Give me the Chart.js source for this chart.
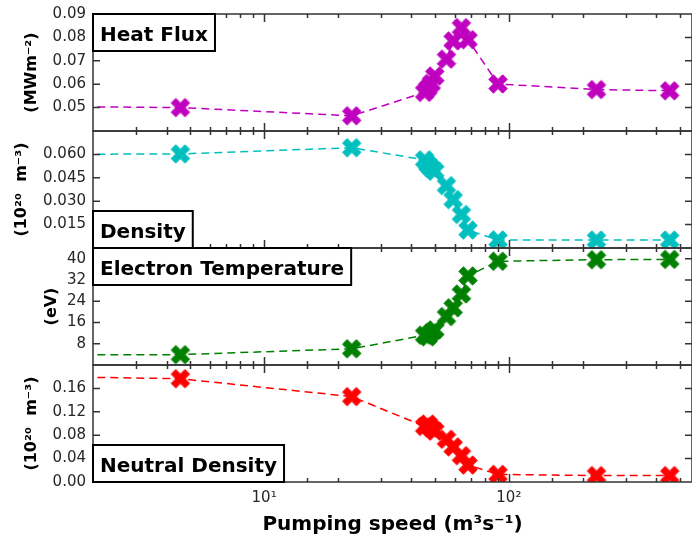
<!DOCTYPE html>
<html>
<head>
<meta charset="utf-8">
<script src="https://cdn.jsdelivr.net/npm/chart.js@4.4.1/dist/chart.umd.min.js"></script>
<style>
  html, body { margin: 0; padding: 0; background: #fff; }
  canvas { display: block; }
</style>
</head>
<body>
<canvas id="chart" width="692" height="537"></canvas>
<script>
// pumping speed (m^3/s), first entry is the point left of the axis the line comes from
const speed = [1, 4.55, 22.8, 45.3, 46.7, 48.2, 49.8, 55.6, 59.2, 64.0, 68.1, 90.3, 228, 454];
const heatFlux = [0.0506, 0.0500, 0.0465, 0.0565, 0.0582, 0.0603, 0.0635, 0.0707, 0.0785, 0.0842, 0.0790, 0.0601, 0.0577, 0.0572];
const density = [0.0600, 0.0603, 0.0643, 0.0565, 0.0535, 0.0512, 0.0492, 0.0400, 0.0310, 0.0215, 0.0115, 0.0052, 0.0051, 0.0051];
const elecTemp = [3.9, 3.9, 6.1, 11.2, 10.6, 12.2, 13.2, 18.2, 21.5, 26.7, 33.5, 39.0, 39.6, 39.7];
const neutralDensity = [0.181, 0.1765, 0.146, 0.095, 0.099, 0.092, 0.087, 0.073, 0.060, 0.045, 0.029, 0.013, 0.011, 0.011];

const panelNames = ['Heat Flux', 'Density', 'Electron Temperature', 'Neutral Density'];
const unitLabels = ['(MWm\u207B\u00B2)', '(10\u00B2\u2070  m\u207B\u00B3)', '(eV)', '(10\u00B2\u2070  m\u207B\u00B3)'];
const heatTicks = [0.04, 0.05, 0.06, 0.07, 0.08, 0.09];
const densTicks = [0, 0.015, 0.030, 0.045, 0.060, 0.075];
const tempTicks = [0, 8, 16, 24, 32, 40];
const ndTicks = [0, 0.04, 0.08, 0.12, 0.16, 0.20];
const xTickLabels = {10: '10\u00B9', 100: '10\u00B2'};

const FONT = '"DejaVu Sans", sans-serif';

// filled "X" marker like matplotlib's
function xMarker(color) {
  const s = 22, u = 4.6;
  const c = document.createElement('canvas');
  c.width = s; c.height = s;
  const g = c.getContext('2d');
  const pts = [[-1,-2],[0,-1],[1,-2],[2,-1],[1,0],[2,1],[1,2],[0,1],[-1,2],[-2,1],[-1,0],[-2,-1]];
  g.beginPath();
  pts.forEach((p, i) => {
    const x = s / 2 + p[0] * u, y = s / 2 + p[1] * u;
    if (i) g.lineTo(x, y); else g.moveTo(x, y);
  });
  g.closePath();
  g.fillStyle = color;
  g.strokeStyle = color;
  g.lineWidth = 1;
  g.fill();
  g.stroke();
  return c;
}

function series(label, values, color, axis) {
  return {
    label: label,
    data: speed.map((s, i) => ({x: s, y: values[i]})),
    yAxisID: axis,
    borderColor: color,
    backgroundColor: color,
    borderWidth: 1.5,
    borderDash: [8, 5],
    pointStyle: xMarker(color),
    pointRadius: 10,
    showLine: true,
    tension: 0
  };
}

function yAxis(ticks, min, max, decimals, hidden, title, titlePad) {
  return {
    type: 'linear',
    position: 'left',
    stack: 'panels',
    stackWeight: 1,
    min: min,
    max: max,
    afterBuildTicks: (scale) => { scale.ticks = ticks.map(v => ({value: v})); },
    afterFit: (scale) => {
      // fixed axis width, and no extra room for the end labels
      scale.width = 93;
      scale.paddingTop = 0;
      scale.paddingBottom = 0;
    },
    grid: { display: false, drawTicks: false },
    border: { display: false },
    ticks: {
      autoSkip: false,
      padding: 7,
      color: '#262626',
      font: { family: FONT, size: 15 },
      callback: (v) => hidden.includes(v) ? '' : v.toFixed(decimals)
    },
    title: {
      display: true,
      text: title,
      color: '#000',
      font: { family: FONT, size: 16, weight: 'bold' },
      padding: { top: titlePad, bottom: 0 }
    }
  };
}

const panelAxes = ['y1', 'y2', 'y3', 'y4'];
const boxCorner = ['top', 'bottom', 'top', 'bottom'];

const panelDecor = {
  id: 'panelDecor',
  afterDatasetsDraw(chart) {
    const {ctx, chartArea: a, scales} = chart;
    const xs = scales.x;
    ctx.save();
    panelAxes.forEach((id, k) => {
      const ys = scales[id];
      const top = ys.top, bot = ys.bottom;
      ctx.strokeStyle = '#333';
      ctx.lineWidth = 1.5;
      ctx.beginPath();
      // x ticks, inward at top and bottom of each panel
      xs.ticks.forEach(t => {
        const px = Math.round(xs.getPixelForValue(t.value)) + 0.5;
        if (px <= a.left + 1 || px >= a.right - 1) return;
        const major = Math.abs(Math.log10(t.value) % 1) < 1e-9;
        const len = major ? 8 : 4;
        ctx.moveTo(px, top); ctx.lineTo(px, top + len);
        ctx.moveTo(px, bot); ctx.lineTo(px, bot - len);
      });
      // y ticks, inward on left and right
      ys.ticks.forEach(t => {
        const py = ys.getPixelForValue(t.value);
        if (py <= top + 1 || py >= bot - 1) return;
        ctx.moveTo(a.left, py); ctx.lineTo(a.left + 7, py);
        ctx.moveTo(a.right, py); ctx.lineTo(a.right - 7, py);
      });
      ctx.stroke();
      ctx.strokeRect(a.left, top, a.right - a.left, bot - top);

      // label box
      ctx.font = 'bold 20px ' + FONT;
      const w = ctx.measureText(panelNames[k]).width + 14;
      const h = 37;
      const by = boxCorner[k] === 'top' ? top : bot - h;
      ctx.fillStyle = '#fff';
      ctx.fillRect(a.left, by, w, h);
      ctx.strokeStyle = '#000';
      ctx.lineWidth = 2;
      ctx.strokeRect(a.left, by, w, h);
      ctx.fillStyle = '#000';
      ctx.textBaseline = 'alphabetic';
      ctx.textAlign = 'left';
      ctx.fillText(panelNames[k], a.left + 7, by + 27);
    });
    ctx.restore();
  }
};

new Chart(document.getElementById('chart'), {
  type: 'scatter',
  data: {
    datasets: [
      series('Heat Flux', heatFlux, '#bf00bf', 'y1'),
      series('Density', density, '#00bfbf', 'y2'),
      series('Electron Temperature', elecTemp, '#008000', 'y3'),
      series('Neutral Density', neutralDensity, '#ff0000', 'y4')
    ]
  },
  options: {
    responsive: false,
    animation: false,
    devicePixelRatio: 1,
    // the plot runs to the right edge of the figure in the original
    layout: { autoPadding: false, padding: { top: 14, right: 0, bottom: 0, left: 0 } },
    plugins: {
      legend: { display: false },
      tooltip: { enabled: false }
    },
    scales: {
      x: {
        type: 'logarithmic',
        position: 'bottom',
        min: 2,
        max: 560,
        afterFit: (scale) => {
          scale.height = 55;
          scale.paddingLeft = 0;
          scale.paddingRight = 0;
        },
        grid: { display: false, drawTicks: false },
        border: { display: false },
        ticks: {
          autoSkip: false,
          maxRotation: 0,
          padding: 7,
          color: '#262626',
          font: { family: FONT, size: 15 },
          callback: (v) => xTickLabels[v] || ''
        },
        title: {
          display: true,
          text: 'Pumping speed (m\u00B3s\u207B\u00B9)',
          color: '#000',
          font: { family: FONT, size: 20, weight: 'bold' },
          padding: { top: 4, bottom: 0 }
        }
      },
      // stacked panels are laid out bottom-up, so the bottom panel comes first
      y4: yAxis(ndTicks, 0, 0.2, 2, [0.2], unitLabels[3], 22),
      y3: yAxis(tempTicks, 0, 44, 0, [0], unitLabels[2], 42),
      y2: yAxis(densTicks, 0, 0.075, 3, [0, 0.075], unitLabels[1], 12),
      y1: yAxis(heatTicks, 0.04, 0.09, 2, [0.04], unitLabels[0], 22)
    }
  },
  plugins: [panelDecor]
});
</script>
</body>
</html>
